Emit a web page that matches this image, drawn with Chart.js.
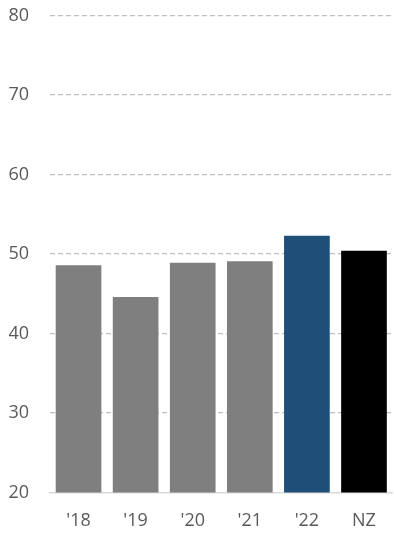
<!DOCTYPE html>
<html>
<head>
<meta charset="utf-8">
<script src="https://cdn.jsdelivr.net/npm/chart.js@4"></script>
<style>
  html, body { margin: 0; padding: 0; background: #fff; }
  #c { display: block; }
</style>
</head>
<body>
<canvas id="c" width="394" height="534"></canvas>
<script>
var categories = ["'18", "'19", "'20", "'21", "'22", 'NZ'];
var values = [48.6, 44.6, 48.9, 49.1, 52.3, 50.4];
var barColors = ['#7f7f7f', '#7f7f7f', '#7f7f7f', '#7f7f7f', '#1f4e79', '#000000'];
var yMin = 20, yMax = 80, yStep = 10;

var ctx = document.getElementById('c').getContext('2d');

new Chart(ctx, {
    type: 'bar',
    data: {
        labels: categories,
        datasets: [{
            data: values,
            backgroundColor: barColors,
            borderWidth: 0,
            categoryPercentage: 0.8,
            barPercentage: 1.0
        }]
    },
    options: {
        responsive: false,
        animation: false,
        devicePixelRatio: 1,
        layout: { padding: { top: 15.5, right: 1, bottom: 0, left: 0 } },
        plugins: { legend: { display: false }, tooltip: { enabled: false } },
        scales: {
            x: {
                afterFit: function (scale) {
                    scale.height = 41.5;
                    scale.paddingTop = 0;
                    scale.paddingBottom = 0;
                },
                grid: { display: false, drawTicks: false },
                border: { display: true, color: '#d9d9d9', width: 1.5 },
                ticks: {
                    color: '#595959',
                    font: { family: 'Open Sans', size: 18 },
                    padding: 18
                }
            },
            y: {
                min: yMin,
                max: yMax,
                afterFit: function (scale) {
                    scale.width = 50;
                    scale.paddingTop = 0;
                    scale.paddingBottom = 0;
                },
                grid: {
                    drawTicks: false,
                    color: function (c) { return c.tick.value === yMin ? 'rgba(0,0,0,0)' : '#bfbfbf'; },
                    lineWidth: 1.2
                },
                border: { display: false, dash: [5, 3] },
                ticks: {
                    stepSize: yStep,
                    color: '#595959',
                    font: { family: 'Open Sans', size: 18 },
                    padding: 21
                }
            }
        }
    }
});
</script>
</body>
</html>
